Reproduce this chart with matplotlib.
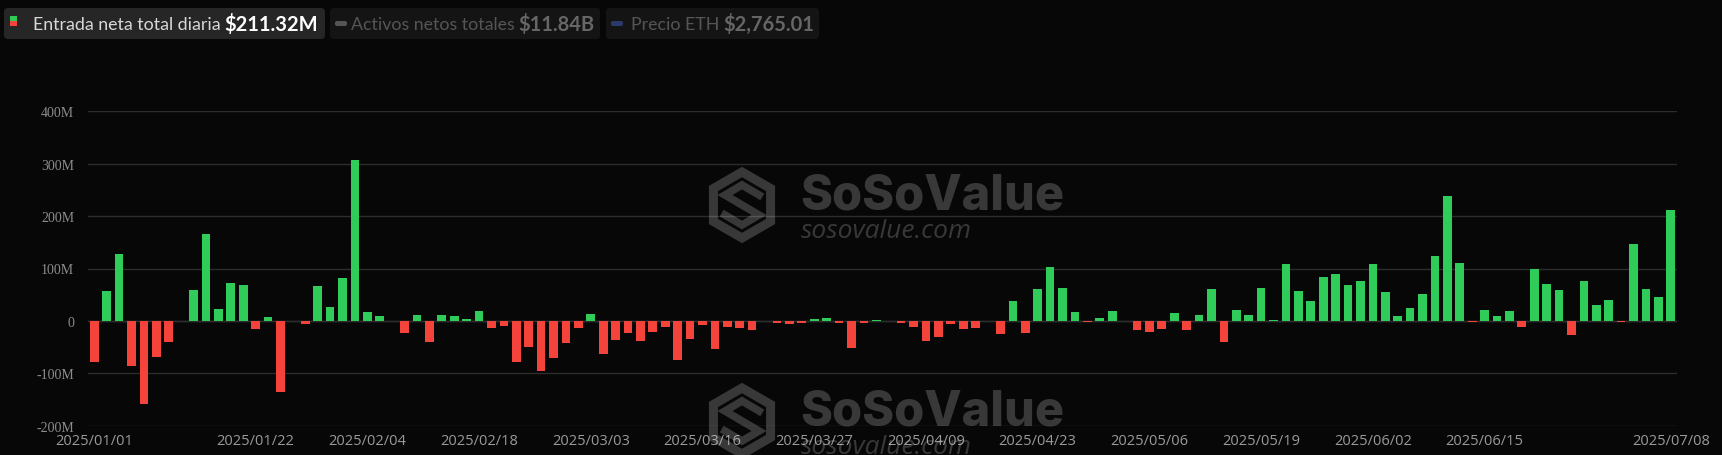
import matplotlib.pyplot as plt
from matplotlib.patches import FancyBboxPatch, RegularPolygon, Rectangle
from matplotlib.lines import Line2D
from matplotlib.transforms import IdentityTransform

# daily net inflow, millions USD (one bar per trading day)
flows = [
    -78, 57, 127, -87, -159, -69, -40, 0.5, 59, 166,
    23, 73, 69, -15, 8, -136, 0, -5, 67, 27,
    82, 307, 17, 9, 0, -23, 11, -41, 12, 10,
    3, 18, -13, -9, -78, -50, -95, -71, -42, -13,
    13, -64, -36, -24, -38, -22, -11, -74, -35, -8,
    -53, -12, -13, -18, 0, -4, -6, -4, 3, 5,
    -4, -51, -4, 2, 0, -4, -11, -39, -30, -6,
    -15, -13, 0, -25, 38, -24, 61, 103, 62, 17,
    -2, 5, 18, 0, -18, -22, -16, 16, -17, 11,
    61, -40, 20, 12, 63, 1, 109, 57, 38, 83,
    90, 69, 76, 108, 55, 10, 24, 51, 123, 239,
    111, -2, 20, 10, 18, -12, 99, 70, 59, -27,
    76, 30, 39, -2, 147, 61, 45, 211.32,
]

tick_idx = [0, 13, 22, 31, 40, 49, 58, 67, 76, 85, 94, 103, 112, 127]
tick_labels = ["2025/01/01", "2025/01/22", "2025/02/04", "2025/02/18", "2025/03/03",
               "2025/03/16", "2025/03/27", "2025/04/09", "2025/04/23", "2025/05/06",
               "2025/05/19", "2025/06/02", "2025/06/15", "2025/07/08"]

yticks = [-200, -100, 0, 100, 200, 300, 400]
ylabels = ["-200M", "-100M", "0", "100M", "200M", "300M", "400M"]

legend_names = ["Entrada neta total diaria", "Activos netos totales", "Precio ETH"]
legend_values = ["$211.32M", "$11.84B", "$2,765.01"]

BG = "#070707"
GREEN = "#30cc5a"
RED = "#f4433a"

W, H = 1722, 456
fig = plt.figure(figsize=(W / 100, H / 100), dpi=100, facecolor=BG)
px = IdentityTransform()  # pixel coords, origin bottom-left

ax = fig.add_axes([88 / W, 1 - 426.7 / H, (1677 - 88) / W, (426.7 - 112.3) / H])
ax.set_facecolor(BG)

x = list(range(len(flows)))
colors = [GREEN if v >= 0 else RED for v in flows]
ax.bar(x, flows, width=0.7, color=colors, zorder=3)

ax.set_xlim(-0.5, len(flows) - 0.5)
ax.set_ylim(-200, 400)
ax.set_yticks(yticks)
ax.set_yticklabels(ylabels, fontfamily="Liberation Serif", fontsize=10, color="#8c8c8c")
ax.set_xticks(tick_idx)
ax.set_xticklabels(tick_labels, fontfamily="Open Sans", fontsize=10.5, color="#9a9a9a")
ax.tick_params(axis="y", length=0, pad=10)
ax.tick_params(axis="x", length=0, pad=5)
ax.grid(axis="y", color="#2c2c2c", linewidth=1, zorder=0)
ax.axhline(0, color="#3a3a3a", linewidth=1, zorder=1)
for s in ax.spines.values():
    s.set_visible(False)

# legend chips at top
boxes = [(4, 325), (330, 600), (606, 819)]
name_off = [29, 21, 25]
box_bg = ["#262626", "#141414", "#141414"]
name_col = ["#d8d8d8", "#555555", "#555555"]
val_col = ["#ffffff", "#666666", "#666666"]
fig.canvas.draw()
for i, (x0, x1) in enumerate(boxes):
    fig.patches.append(FancyBboxPatch((x0, H - 40), x1 - x0, 31,
                                      boxstyle="round,pad=0,rounding_size=4",
                                      transform=px, facecolor=box_bg[i],
                                      edgecolor="none", zorder=1))
    t = fig.text((x0 + name_off[i]) / W, 1 - 24.5 / H, legend_names[i], fontfamily="Lato",
                 fontsize=12.8, color=name_col[i], va="center", ha="left")
    bb = t.get_window_extent(renderer=fig.canvas.get_renderer())
    fig.text((bb.x1 + 4) / W, 1 - 24.5 / H, legend_values[i], fontfamily="Lato",
             fontweight="bold", fontsize=14.5, color=val_col[i], va="center", ha="left")

fig.patches.append(Rectangle((10, H - 22), 7, 5, transform=px,
                             facecolor=GREEN, edgecolor="none", zorder=2))
fig.patches.append(Rectangle((10, H - 27), 7, 5, transform=px,
                             facecolor=RED, edgecolor="none", zorder=2))
fig.patches.append(FancyBboxPatch((335, H - 27), 12, 5,
                                  boxstyle="round,pad=0,rounding_size=2",
                                  transform=px, facecolor="#555555",
                                  edgecolor="none", zorder=2))
fig.patches.append(FancyBboxPatch((611, H - 27), 12, 5,
                                  boxstyle="round,pad=0,rounding_size=2",
                                  transform=px, facecolor="#2b3a6b",
                                  edgecolor="none", zorder=2))

# watermarks (two copies)
wm = (1, 1, 1, 0.2)
for dy in [0, 216]:
    cx, cy = 742, H - (206 + dy)
    fig.patches.append(RegularPolygon((cx, cy), 6, radius=33, orientation=0,
                                      transform=px, facecolor="none", edgecolor=wm,
                                      linewidth=6.5, zorder=4))
    sx = [cx + 17, cx, cx - 17, cx, cx + 17, cx, cx - 17]
    sy = [cy + 10, cy + 20, cy + 10, cy, cy - 10, cy - 20, cy - 10]
    fig.lines.append(Line2D(sx, sy, transform=px, color=wm, linewidth=5.5,
                            solid_joinstyle="miter", zorder=4))
    fig.text(800 / W, 1 - (197 + dy) / H, "SoSoValue", fontfamily="Inter",
             fontweight="heavy", fontsize=35, color=wm, ha="left", va="center", zorder=4)
    fig.text(801 / W, 1 - (232 + dy) / H, "sosovalue.com", fontfamily="Open Sans",
             fontstyle="italic", fontsize=19, color=wm, ha="left", va="center", zorder=4)

fig.savefig("out.png", dpi=100, facecolor=BG)
